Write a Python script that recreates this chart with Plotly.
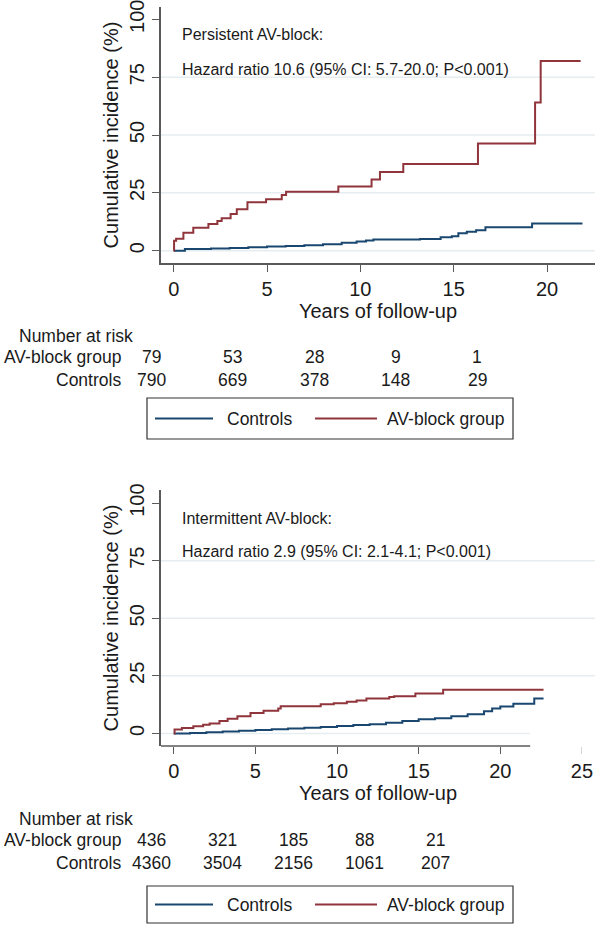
import plotly.graph_objects as go

# ===============================
# DATA
# ===============================

# Persistent AV-block panel
pers_av_years = [0, 0.02, 0.13, 0.52, 1.05, 1.86, 2.34, 2.57, 3.05, 3.38, 3.95, 4.95,
                 5.79, 6.02, 8.82, 10.6, 11.05, 12.3, 16.3, 19.36, 19.66, 21.8]
pers_av_inc = [0, 4.3, 5.2, 7.8, 9.9, 11.5, 12.8, 14.0, 15.9, 17.9, 20.9, 22.2,
               24.1, 25.5, 27.8, 30.8, 34.0, 37.5, 46.3, 64.0, 82.0, 82.0]
pers_ctrl_years = [0, 0.6, 2, 3, 4, 5, 6, 7, 8, 9, 9.8, 10.3, 10.7, 13.2, 14.3,
                   14.9, 15.25, 15.7, 16.2, 16.7, 19.2, 21.9]
pers_ctrl_inc = [0, 0.8, 1.0, 1.2, 1.5, 1.8, 2.0, 2.4, 2.8, 3.4, 4.0, 4.4, 4.8, 5.1, 5.8,
                 6.3, 7.5, 8.2, 8.9, 10.1, 11.8, 11.8]

# Intermittent AV-block panel
int_av_years = [0, 0.05, 0.5, 1.2, 1.8, 2.2, 2.8, 3.3, 3.9, 4.7, 5.5, 6.4, 6.55, 9.0,
                9.8, 10.6, 11.2, 11.8, 13.2, 13.5, 14.8, 16.5, 22.65]
int_av_inc = [0, 1.7, 2.3, 3.1, 3.7, 4.3, 5.4, 6.4, 7.4, 8.9, 9.8, 10.8, 11.8, 12.6,
              13.1, 13.7, 14.3, 15.1, 15.8, 16.1, 17.3, 19.0, 19.0]
int_ctrl_years = [0, 1, 2, 3, 4, 5, 6, 7, 8, 9, 10, 11, 12, 13, 14, 15, 16, 17, 18,
                  19, 19.5, 20, 20.8, 22.08, 22.65]
int_ctrl_inc = [0, 0.2, 0.5, 0.8, 1.1, 1.5, 1.8, 2.1, 2.4, 2.8, 3.2, 3.6, 4.0, 4.6,
                5.4, 6.1, 6.6, 7.4, 8.3, 9.6, 10.8, 11.7, 12.9, 15.1, 15.1]

# Number at risk
risk_times = [0, 5, 10, 15, 20]
pers_risk_av = [79, 53, 28, 9, 1]
pers_risk_ctrl = [790, 669, 378, 148, 29]
int_risk_av = [436, 321, 185, 88, 21]
int_risk_ctrl = [4360, 3504, 2156, 1061, 207]

y_ticks = [0, 25, 50, 75, 100]
grid_ticks = [0, 25, 50, 75]
x_ticks = [0, 5, 10, 15, 20]
x_tick_extra = [25]   # lower panel: label past the end of the axis line

pers_text = ["Persistent AV-block:", "Hazard ratio 10.6 (95% CI: 5.7-20.0; P<0.001)"]
int_text = ["Intermittent AV-block:", "Hazard ratio 2.9 (95% CI: 2.1-4.1; P<0.001)"]

# ===============================
# STYLE
# ===============================

W, H = 600, 927
FONT = "Liberation Sans, Arial, sans-serif"
TXT = "#1a1a1a"
AXC = "#5a5a5a"
GRID = "#e6edf1"
BLUE = "#1a476f"
RED = "#90353b"


def px(x):
    return x / W


def py(y):
    return 1 - y / H


fig = go.Figure()

# ===============================
# CURVES
# ===============================

fig.add_trace(go.Scatter(x=pers_ctrl_years, y=pers_ctrl_inc, mode="lines", line_shape="hv",
                         line=dict(color=BLUE, width=2), name="Controls",
                         xaxis="x", yaxis="y", showlegend=False))
fig.add_trace(go.Scatter(x=pers_av_years, y=pers_av_inc, mode="lines", line_shape="hv",
                         line=dict(color=RED, width=2), name="AV-block group",
                         xaxis="x", yaxis="y", showlegend=False))
fig.add_trace(go.Scatter(x=int_ctrl_years, y=int_ctrl_inc, mode="lines", line_shape="hv",
                         line=dict(color=BLUE, width=2), name="Controls",
                         xaxis="x2", yaxis="y2", showlegend=False))
fig.add_trace(go.Scatter(x=int_av_years, y=int_av_inc, mode="lines", line_shape="hv",
                         line=dict(color=RED, width=2), name="AV-block group",
                         xaxis="x2", yaxis="y2", showlegend=False))
# empty trace so the overlay axis carrying the "25" label gets drawn
fig.add_trace(go.Scatter(x=[], y=[], xaxis="x3", yaxis="y2", showlegend=False,
                         hoverinfo="skip"))

# ===============================
# AXES
# ===============================

axis_common = dict(
    showgrid=False, zeroline=False, ticks="outside", ticklen=7, tickwidth=1.3,
    tickcolor=AXC, linecolor=AXC, linewidth=1.5, automargin=False,
    ticklabeloverflow="allow",
    tickfont=dict(family=FONT, size=20, color=TXT),
    title_font=dict(family=FONT, size=20, color=TXT),
)

fig.update_layout(
    xaxis=dict(axis_common, domain=[px(161), px(595)], anchor="y", range=[-0.68, 22.57],
               tickvals=x_ticks, showline=True,
               title=dict(text="Years of follow-up", standoff=0)),
    yaxis=dict(axis_common, domain=[py(263), py(7)], anchor="x", range=[-5.3, 105.3],
               tickvals=y_ticks, tickangle=-90, showline=True,
               title=dict(text="Cumulative incidence (%)", standoff=2)),
    xaxis2=dict(axis_common, domain=[px(161), px(595)], anchor="y2", range=[-0.78, 25.8],
                tickvals=x_ticks, showline=False,
                title=dict(text="Years of follow-up", standoff=0)),
    xaxis3=dict(axis_common, domain=[px(161), px(595)], anchor="y2", overlaying="x2",
                range=[-0.78, 25.8], tickvals=x_tick_extra, showline=False,
                tickcolor="#d4d4d4", tickwidth=1),
    yaxis2=dict(axis_common, domain=[py(746), py(490)], anchor="x2", range=[-5.48, 105.7],
                tickvals=y_ticks, tickangle=-90, showline=True,
                title=dict(text="Cumulative incidence (%)", standoff=2)),
)

shapes = []
# gridlines
for g in grid_ticks:
    shapes.append(dict(type="line", xref="x domain", yref="y", x0=0, x1=1, y0=g, y1=g,
                       line=dict(color=GRID, width=1.5), layer="below"))
    x1 = 21.83 if g == 0 else 25.8
    shapes.append(dict(type="line", xref="x2", yref="y2", x0=-0.78, x1=x1, y0=g, y1=g,
                       line=dict(color=GRID, width=1.5), layer="below"))
# short x axis line of the lower panel
shapes.append(dict(type="line", xref="x2", yref="y2 domain", x0=-0.78, x1=21.83, y0=0, y1=0,
                   line=dict(color=AXC, width=1.5)))

annotations = []


def note(text, x, y, xanchor="left", size=13):
    annotations.append(dict(text=text, x=px(x), y=py(y), xref="paper", yref="paper",
                            xanchor=xanchor, yanchor="middle", showarrow=False,
                            font=dict(family=FONT, size=size, color=TXT)))


# panel texts
note(pers_text[0], 180, 35, size=16)
note(pers_text[1], 180, 69, size=16)
note(int_text[0], 180, 518, size=16)
note(int_text[1], 180, 551, size=16)

TS = 17.5


def risk_table(top, x0, step, av, ctrl):
    note("Number at risk", 17, top, size=TS)
    note("AV-block group", 123, top + 21, xanchor="right", size=TS)
    note("Controls", 123, top + 44, xanchor="right", size=TS)
    for t, a, c in zip(risk_times, av, ctrl):
        note(str(a), x0 + t * step, top + 21, xanchor="center", size=TS)
        note(str(c), x0 + t * step, top + 44, xanchor="center", size=TS)


risk_table(336, 151, 16.3, pers_risk_av, pers_risk_ctrl)
risk_table(819, 151, 14.2, int_risk_av, int_risk_ctrl)


def legend_box(y0, y1):
    ym = (y0 + y1) / 2
    shapes.append(dict(type="rect", xref="paper", yref="paper", x0=px(147), x1=px(513),
                       y0=py(y1), y1=py(y0), line=dict(color="#333333", width=1.2)))
    shapes.append(dict(type="line", xref="paper", yref="paper", x0=px(155), x1=px(213),
                       y0=py(ym), y1=py(ym), line=dict(color=BLUE, width=2)))
    shapes.append(dict(type="line", xref="paper", yref="paper", x0=px(315), x1=px(377),
                       y0=py(ym), y1=py(ym), line=dict(color=RED, width=2)))
    note("Controls", 225, ym, size=TS)
    note("AV-block group", 385, ym, size=TS)


legend_box(398, 439)
legend_box(886, 923)

fig.update_layout(
    width=W, height=H,
    margin=dict(l=0, r=0, t=0, b=0, autoexpand=False),
    paper_bgcolor="white", plot_bgcolor="white",
    shapes=shapes, annotations=annotations,
    showlegend=False,
    font=dict(family=FONT, color=TXT),
)

fig.write_html("out.html", config={"displayModeBar": False},
               post_script="document.body.style.margin='0';document.body.style.overflow='hidden';")
